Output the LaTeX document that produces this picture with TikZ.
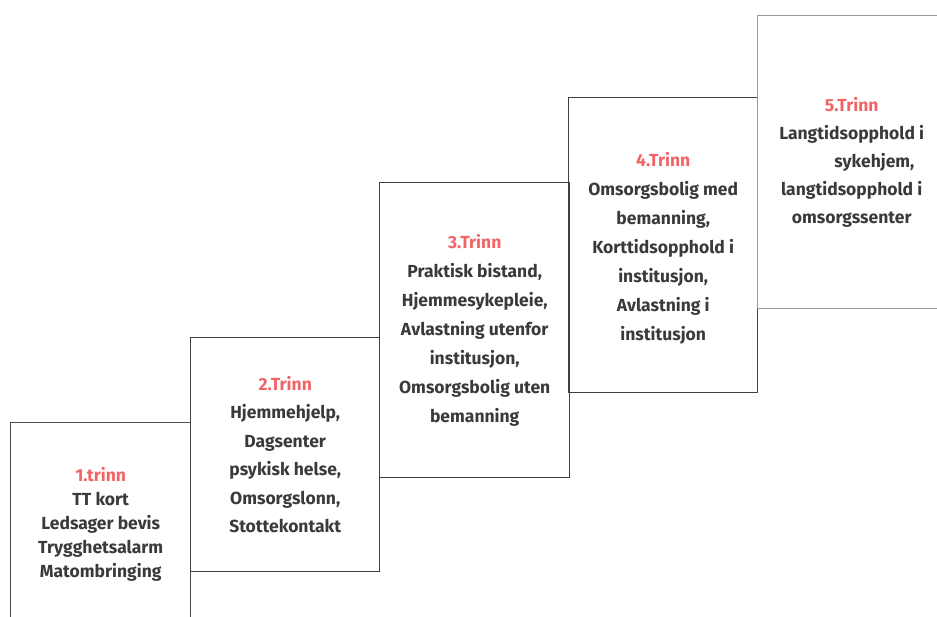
\documentclass[tikz,border=0pt]{standalone}
\usepackage{fontspec}
\setmainfont{Fira Sans}
\usepackage{xcolor}
\usepackage{tikz}
\usetikzlibrary{positioning,calc}

\definecolor{trinnred}{HTML}{F26366}
\definecolor{trinngray}{HTML}{3A3A3A}

\begin{document}
\begin{tikzpicture}[x=1pt,y=-1pt,
  stepbox/.style={draw=#1, line width=1.4pt, inner sep=0pt, anchor=north west},
  steptext/.style={text=trinngray, align=center, font=\bfseries\fontsize{17.5}{#1}\selectfont}]
  \useasboundingbox (0,0) rectangle (937,616);
  % the five steps: left, top, width, height, colour
  \foreach \i/\xa/\ya/\w/\h/\col in {1/10/422/180/203/black!70,
      2/190/337/189/234/black!75, 3/379/182/190/295/black!75,
      4/568/97/189/295/black!75, 5/757/15/188/293/black!40}{
    \node[stepbox=\col, minimum width=\w, minimum height=\h] (box\i) at (\xa,\ya) {};
  }
  \node[steptext=24] (txt1) at (box1) {\textcolor{trinnred}{1.trinn}\\TT kort\\Ledsager bevis\\Trygghetsalarm\\Matombringing};
  \node[steptext=28.5] (txt2) at (box2) {\textcolor{trinnred}{2.Trinn}\\Hjemmehjelp,\\Dagsenter\\psykisk helse,\\Omsorgslonn,\\Stottekontakt};
  \node[steptext=29] (txt3) at (box3) {\textcolor{trinnred}{3.Trinn}\\Praktisk bistand,\\Hjemmesykepleie,\\Avlastning utenfor\\institusjon,\\Omsorgsbolig uten\\bemanning};
  \node[steptext=29] (txt4) at ($(box4)+(0,3)$) {\textcolor{trinnred}{4.Trinn}\\Omsorgsbolig med\\bemanning,\\Korttidsopphold i\\institusjon,\\Avlastning i\\institusjon};
  \node[steptext=28] (txt5) at (box5) {\textcolor{trinnred}{5.Trinn}\\Langtidsopphold i\\\hspace*{2.6em}sykehjem,\\langtidsopphold i\\omsorgssenter};
\end{tikzpicture}
\end{document}
